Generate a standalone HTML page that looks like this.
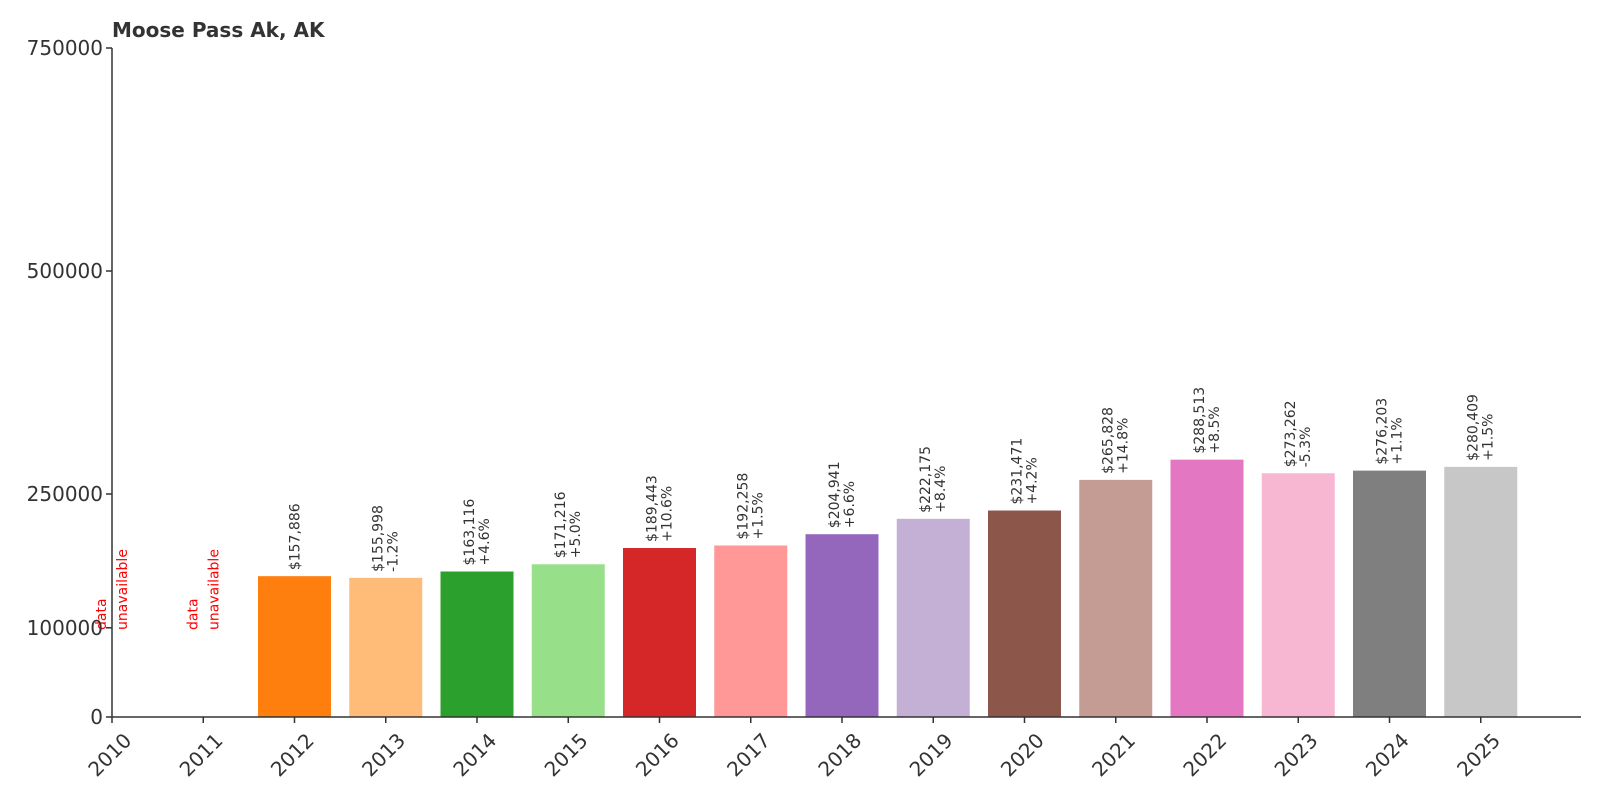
<!DOCTYPE html>
<html><head><meta charset="utf-8"><style>
html,body{margin:0;padding:0;background:#fff;}
svg{display:block;font-family:"DejaVu Sans","Liberation Sans",sans-serif;}
</style></head><body>
<svg width="1600" height="800" viewBox="0 0 1600 800" id="chart">
<text x="112" y="37" font-size="20" font-weight="bold" fill="#333">Moose Pass Ak, AK</text>
<g id="plot"></g>
</svg>
<script>
const years=["2010","2011","2012","2013","2014","2015","2016","2017","2018","2019","2020","2021","2022","2023","2024","2025"];
const values=[null,null,157886,155998,163116,171216,189443,192258,204941,222175,231471,265828,288513,273262,276203,280409];
const changes=["","","","-1.2%","+4.6%","+5.0%","+10.6%","+1.5%","+6.6%","+8.4%","+4.2%","+14.8%","+8.5%","-5.3%","+1.1%","+1.5%"];
const colors=["#1f77b4","#aec7e8","#ff7f0e","#ffbb78","#2ca02c","#98df8a","#d62728","#ff9896","#9467bd","#c5b0d5","#8c564b","#c49c94","#e377c2","#f7b6d2","#7f7f7f","#c7c7c7"];
const yTicks=[0,100000,250000,500000,750000];
const NS="http://www.w3.org/2000/svg";
const g=document.getElementById('plot');
const x0=112,step=91.25,yBase=717,yTop=48,yMax=750000,barW=73;
function xs(i){return x0+i*step;}
function ys(v){return yBase-v/yMax*(yBase-yTop);}
function mk(tag,attrs,txt){const e=document.createElementNS(NS,tag);for(const k in attrs)e.setAttribute(k,attrs[k]);if(txt!==undefined)e.textContent=txt;g.appendChild(e);return e;}
values.forEach((v,i)=>{
  const cx=xs(i);
  if(v===null){
    const a=mk('text',{x:cx-6,y:630,'font-size':14,fill:'red',transform:`rotate(-90 ${cx-6} 630)`},'data');
    
    
    const b=mk('text',{x:cx+15,y:630,'font-size':14,fill:'red',transform:`rotate(-90 ${cx+15} 630)`},'unavailable');
    
    
    return;
  }
  const top=ys(v);
  const r=mk('rect',{x:cx-barW/2,y:top,width:barW,height:yBase-top,fill:colors[i]});
  
  
  const label='$'+v.toLocaleString('en-US');
  const ty=top-6;
  if(changes[i]){
    const t1=mk('text',{x:cx-3,y:ty,'font-size':14,fill:'#333',transform:`rotate(-90 ${cx-3} ${ty})`},label);
    
    
    const t2=mk('text',{x:cx+12,y:ty,'font-size':14,fill:'#333',transform:`rotate(-90 ${cx+12} ${ty})`},changes[i]);
    
    
  } else {
    const t1=mk('text',{x:cx+5,y:ty,'font-size':14,fill:'#333',transform:`rotate(-90 ${cx+5} ${ty})`},label);
    
    
  }
});
years.forEach((y,i)=>{
  const cx=xs(i);
  const tk=mk('line',{x1:cx,y1:yBase,x2:cx,y2:yBase+6,stroke:'#333','stroke-width':1.5});
  
  
  const tx=cx+10,ty=yBase+14;
  const t=mk('text',{x:tx,y:ty,'font-size':20,fill:'#333','text-anchor':'end',transform:`rotate(-45 ${tx} ${ty})`,'dominant-baseline':'hanging'},y);
  
  
});
yTicks.forEach(v=>{
  const yy=ys(v);
  const tk=mk('line',{x1:x0-6,y1:yy,x2:x0,y2:yy,stroke:'#333','stroke-width':1.5});
  
  
  const t=mk('text',{x:x0-9,y:yy+7,'font-size':20,fill:'#333','text-anchor':'end'},String(v));
  
  
});
const ya=mk('line',{x1:x0,y1:yTop,x2:x0,y2:yBase,stroke:'#333','stroke-width':1.5});


const xa=mk('line',{x1:x0,y1:yBase,x2:1581,y2:yBase,stroke:'#333','stroke-width':1.5});


</script>
</body></html>
